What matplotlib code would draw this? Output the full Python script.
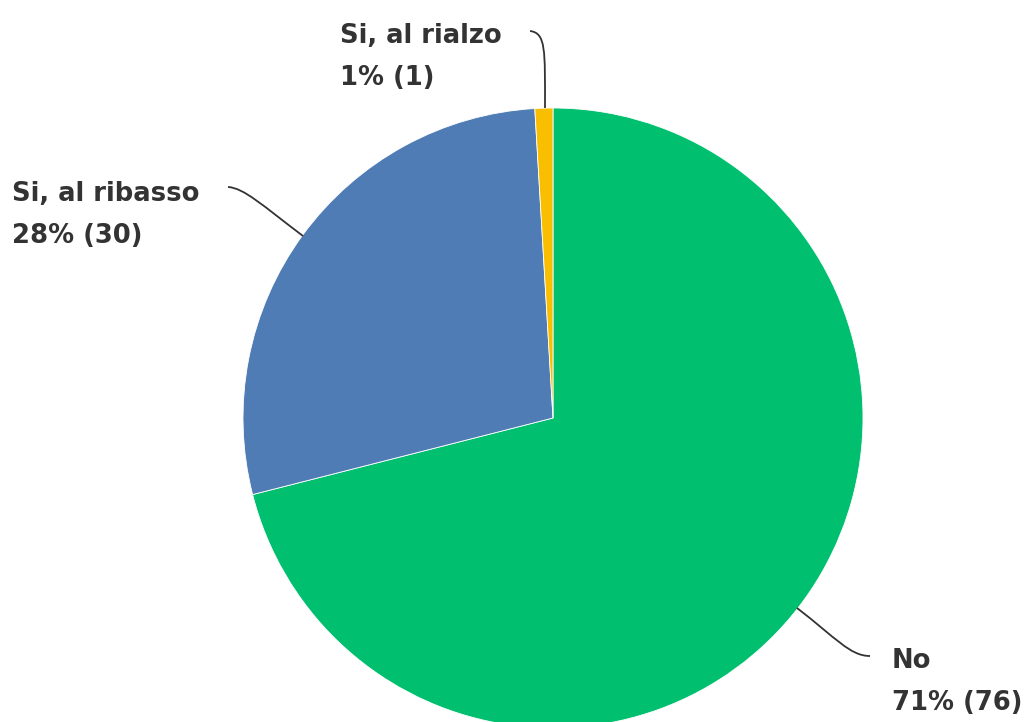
import matplotlib.pyplot as plt
from matplotlib.path import Path
from matplotlib.patches import PathPatch

plt.rcParams.update({
    "font.family": ["DejaVu Sans"],
})

# data
labels = ['No', 'Si, al ribasso', 'Si, al rialzo']
counts = [76, 30, 1]
percents = ['71%', '28%', '1%']
colors = ['#00BF6F', '#507CB6', '#F9BE00']

W, H = 1024, 722
fig = plt.figure(figsize=(W / 100, H / 100), dpi=100)
ax = fig.add_axes([0, 0, 1, 1])

# pixel coordinates, y measured from bottom
cx, cy, r = 553, H - 418, 310
ax.pie(counts, colors=colors, startangle=90, counterclock=False,
       center=(cx, cy), radius=r,
       wedgeprops=dict(edgecolor='white', linewidth=0.6))
ax.set_xlim(0, W)
ax.set_ylim(0, H)
ax.set_aspect('equal')
ax.axis('off')


def leader(pts):
    # one cubic bezier, pts given in image pixel coords
    verts = [(x, H - y) for x, y in pts]
    codes = [Path.MOVETO, Path.CURVE4, Path.CURVE4, Path.CURVE4]
    ax.add_patch(PathPatch(Path(verts, codes), fill=False,
                           edgecolor='#333333', linewidth=1.3))


leader([(545, 108), (545, 50), (546, 33), (530, 31)])
leader([(303, 236), (262, 205), (244, 188), (228, 187)])
leader([(797, 608), (836, 638), (850, 656), (870, 656)])

text_kw = dict(fontsize=18.6, fontweight='bold', color='#333333',
               va='baseline', ha='left')
# label positions: (x, baseline1, baseline2) in image pixels
label_pos = [(892, 668, 710), (12, 201, 243), (340, 43, 85)]
for lab, cnt, pct, (x, b1, b2) in zip(labels, counts, percents, label_pos):
    ax.text(x, H - b1, lab, **text_kw)
    ax.text(x, H - b2, f'{pct} ({cnt})', **text_kw)

fig.savefig('out.png', dpi=100)
